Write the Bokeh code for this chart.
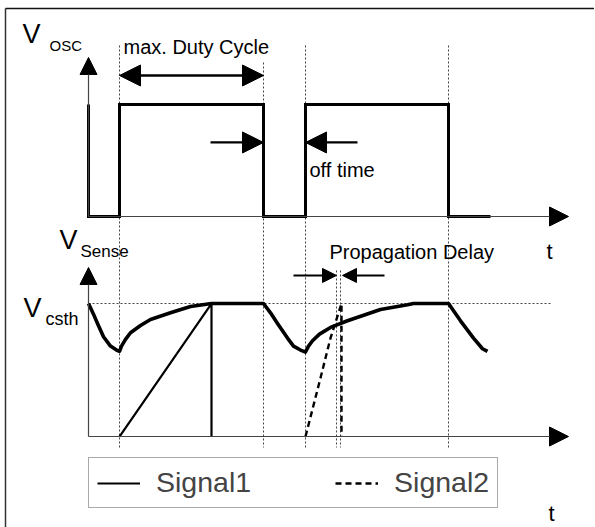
from bokeh.plotting import figure
from bokeh.models import Range1d, Arrow, NormalHead, Label, Legend, LegendItem
from bokeh.embed import file_html
from bokeh.resources import INLINE

# ---------------- data (time in arbitrary units, t = 0 at the axes origin) ----------------
# oscillator output V_OSC (0 = low, 1 = high)
osc_t = [0, 0, 31, 31, 175, 175, 217, 217, 360, 360, 402]
osc_v = [1, 0, 0, 1, 1, 0, 0, 1, 1, 0, 0]

# switching instants (dotted guides) and the propagation-delay instants
edge_t = [31, 175, 217, 360]
delay_t = [248, 252]

# sense voltage, Signal1 envelope (1 = V_csth threshold)
sense_t = [0, 5, 9, 15, 22, 28, 31, 33, 37, 42, 52, 62, 82, 102, 123, 175, 182, 189, 199, 205, 212, 217,
           220, 224, 231, 242, 259, 292, 319, 325, 360, 372, 385, 394, 399]
sense_v = [1.0, 0.92, 0.85, 0.75, 0.68, 0.65, 0.64, 0.68, 0.73, 0.78, 0.835, 0.88, 0.93, 0.977, 1.0,
           1.0, 0.93, 0.85, 0.74, 0.68, 0.65, 0.635, 0.68, 0.72, 0.77, 0.82, 0.87, 0.955, 0.99, 1.0,
           1.0, 0.87, 0.74, 0.66, 0.64]

# Signal1 ramp (solid) and Signal2 ramp (dashed)
ramp1_t = [31, 123, 123]
ramp1_v = [0, 1.0, 0]
ramp2_t = [217, 232, 242, 253, 253]
ramp2_v = [0, 0.44, 0.74, 1.0, 0]

threshold_v = 1.0
axis_end_t = 480
threshold_end_t = 464

FONT = "Liberation Sans"

p = figure(width=594, height=527, x_range=Range1d(-88, 506), y_range=Range1d(-2.777, 1.9286),
           output_backend="svg", toolbar_location=None, title=None,
           x_axis_location=None, y_axis_location=None, min_border=0)
p.extra_y_ranges = {"sense": Range1d(-0.684, 3.278)}
p.outline_line_color = None
p.outline_line_alpha = 0
p.grid.visible = False
p.background_fill_color = "white"
p.border_fill_color = "white"

# outer frame (left and top edges)
p.line([-83, -83], [1.857, -2.777], line_color="#333333", line_width=1.5)
p.line([-83, 506], [1.857, 1.857], line_color="#111111", line_width=1.7)

# dotted guides
guide_t = edge_t + delay_t
guide_top = [1.527, 1.375, 1.527, 1.527, -0.482, -0.482]
guide_bot = [-2.0625] * len(guide_t)
p.segment(x0=guide_t, y0=guide_top, x1=guide_t, y1=guide_bot,
          line_color="#444444", line_width=1, line_dash="2 2")

# threshold line
p.line([0, threshold_end_t], [threshold_v, threshold_v], y_range_name="sense",
       line_color="#444444", line_width=1, line_dash="2 2")

# axes with arrows
def axis_arrow(x0, y0, x1, y1, rng, size):
    kw = {} if rng is None else {"y_range_name": rng}
    p.add_layout(Arrow(x_start=x0, y_start=y0, x_end=x1, y_end=y1,
                       end=NormalHead(size=size, fill_color="black", line_color="black", line_width=1),
                       line_color="#444444", line_width=1.2, **kw))

axis_arrow(0, 0, 0, 1.42, None, 17)
axis_arrow(0, 0, axis_end_t, 0, None, 19)
axis_arrow(0, 0, 0, 1.271, "sense", 17)
axis_arrow(0, 0, axis_end_t, 0, "sense", 19)

# waveforms
p.line(osc_t, osc_v, line_color="black", line_width=3, line_join="miter")
p.line(sense_t, sense_v, y_range_name="sense", line_color="black", line_width=3.6, line_join="round")
r1 = p.line(ramp1_t, ramp1_v, y_range_name="sense", line_color="black", line_width=2.2)
r2 = p.line(ramp2_t, ramp2_v, y_range_name="sense", line_color="black", line_width=2.4, line_dash="6 4")

# dimension arrows
def dim_arrow(x0, x1, y, rng, size, both=False, lw=2.2):
    kw = {} if rng is None else {"y_range_name": rng}
    head = lambda: NormalHead(size=size, fill_color="black", line_color="black", line_width=1)
    p.add_layout(Arrow(x_start=x0, y_start=y, x_end=x1, y_end=y, end=head(),
                       start=head() if both else None,
                       line_color="black", line_width=lw, **kw))

dim_arrow(31, 175, 1.259, None, 21, both=True, lw=2.6)
dim_arrow(122, 175, 0.661, None, 21)
dim_arrow(269, 217, 0.661, None, 21)
dim_arrow(205, 248, 1.211, "sense", 14, lw=2)
dim_arrow(296, 254, 1.211, "sense", 14, lw=2)

# texts
def label(x, y, text, size, rng=None):
    kw = {} if rng is None else {"y_range_name": rng}
    p.add_layout(Label(x=x, y=y, text=text, text_font=FONT, text_font_size=size,
                       text_baseline="alphabetic", text_align="left", text_color="black", **kw))

label(35, 1.509, "max. Duty Cycle", "20px")
label(221, 0.414, "off time", "20px")
label(241, 1.386, "Propagation Delay", "20px", "sense")
label(458, -0.3125, "t", "22px")
label(460, -0.579, "t", "22px", "sense")
label(-66, 1.628, "V", "27px")
label(-39, 1.527, "OSC", "15px")
label(-29, 1.476, "V", "27px", "sense")
label(-8, 1.388, "Sense", "17px", "sense")
label(-65, 0.965, "V", "27px", "sense")
label(-43, 0.887, "csth", "18px", "sense")

# legend (location measured from the bottom-left of the canvas)
legend = Legend(items=[LegendItem(label="Signal1", renderers=[r1]),
                       LegendItem(label="Signal2", renderers=[r2])],
                orientation="horizontal", location=(88, 19),
                glyph_width=43, glyph_height=20, label_standoff=16, spacing=84,
                padding=8, margin=0, label_text_font=FONT, label_text_font_size="28.5px",
                border_line_color="#555555", border_line_width=1,
                background_fill_color="white", background_fill_alpha=1.0)
p.add_layout(legend)

open("out.html", "w").write(file_html(p, INLINE))
